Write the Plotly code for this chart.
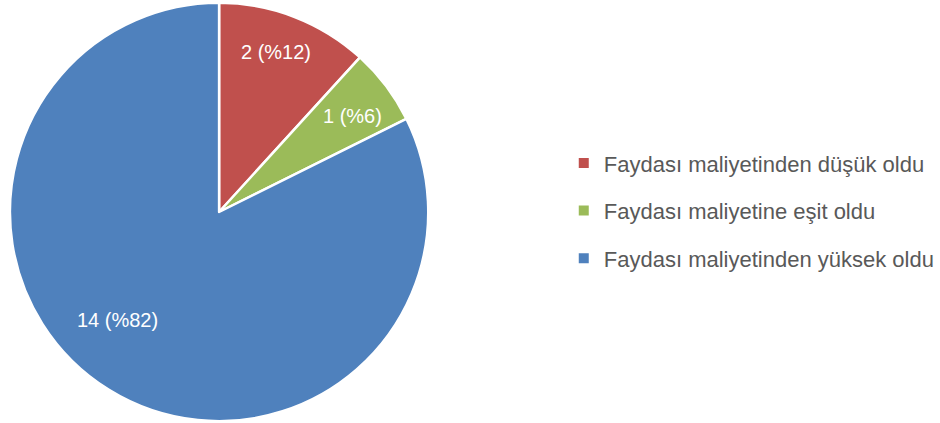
import math
import plotly.graph_objects as go

labels = ["Faydası maliyetinden düşük oldu", "Faydası maliyetine eşit oldu", "Faydası maliyetinden yüksek oldu"]
values = [2, 1, 14]
percents = [12, 6, 82]
colors = ["#C0504D", "#9BBB59", "#4F81BD"]

W, H = 940, 423
# pie geometry (pixels)
CX, CY, R = 219, 212, 208
PAD = 2.5
XSHIFT = 1.5
label_rfrac = [0.82, 0.80, 0.71]
label_angle_shift = [-1, 2, 11]

texts = [f"{v} (%{p})" for v, p in zip(values, percents)]

fig = go.Figure()
fig.add_trace(go.Pie(
    labels=labels, values=values, textinfo="none",
    sort=False, direction="clockwise", rotation=0,
    marker=dict(colors=colors, line=dict(color="white", width=2.5)),
    domain=dict(x=[(CX + XSHIFT - R - PAD) / W, (CX + XSHIFT + R + PAD) / W],
                y=[max(0, (H - CY - R - PAD) / H), min(1, (H - CY + R + PAD) / H)]),
    showlegend=False, hoverinfo="label+value",
))
for lab, col in zip(labels, colors):
    fig.add_trace(go.Scatter(
        x=[None], y=[None], mode="markers", name=lab,
        marker=dict(symbol="square", size=10, color=col),
        legendgroup=lab, showlegend=True,
    ))

total = sum(values)
cum = 0
for v, t, rf, sh in zip(values, texts, label_rfrac, label_angle_shift):
    mid = (cum + v / 2) / total * 360 + sh
    cum += v
    a = math.radians(mid)
    px = CX + rf * R * math.sin(a)
    py = CY - rf * R * math.cos(a)
    fig.add_annotation(x=px / W, y=1 - py / H, xref="paper", yref="paper",
                       xanchor="center", yanchor="middle",
                       text=t, showarrow=False,
                       font=dict(color="white", size=20, family="Liberation Sans"))

fig.update_layout(
    width=W, height=H,
    margin=dict(l=0, r=0, t=0, b=0),
    paper_bgcolor="white", plot_bgcolor="white",
    xaxis=dict(visible=False), yaxis=dict(visible=False),
    legend=dict(x=0.6036, y=0.502, xanchor="left", yanchor="middle",
                font=dict(size=22, color="#595959", family="Liberation Sans"),
                tracegroupgap=16, itemwidth=30, bgcolor="rgba(0,0,0,0)"),
    font=dict(family="Liberation Sans"),
)
fig.write_html("out.html", config={"displayModeBar": False},
               post_script="document.body.style.margin='0';")
